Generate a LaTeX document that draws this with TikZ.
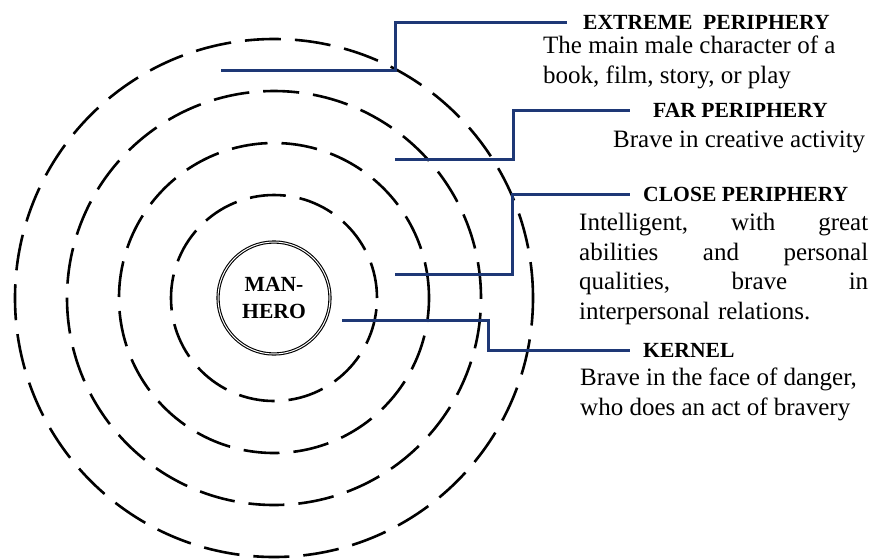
\documentclass[tikz,border=0pt]{standalone}
\usepackage{fontspec}
\setmainfont{Liberation Serif}
\usetikzlibrary{positioning}
\definecolor{linkblue}{RGB}{30,56,118}

\begin{document}
\begin{tikzpicture}[x=1pt,y=-1pt,
    ring/.style={draw, line width=2.6pt, dash pattern=on 36pt off 14pt},
    link/.style={draw=linkblue, line width=3pt},
    head/.style={anchor=west, inner sep=0pt, font=\bfseries\fontsize{21.6}{25}\selectfont},
    desc/.style={anchor=north west, inner sep=0pt, align=left, font=\fontsize{25}{29.5}\selectfont}]
    \useasboundingbox (0,0) rectangle (871,558);

    % the core and its rings
    \node[draw, circle, double, line width=1.1pt, double distance=1pt,
          minimum size=112pt, align=center,
          font=\bfseries\fontsize{21.6}{27}\selectfont] (hero) at (274,298) {MAN-\\HERO};
    \foreach \r in {103,155,207,259}
        \draw[ring] (hero.center) circle[radius=\r pt];

    % headings and notes
    \node[head] (ext)    at (583,22)  {EXTREME\ \ PERIPHERY};
    \node[desc] (extnote) at (543,36) {The main male character of a\\book, film, story, or play};
    \node[head] (far)    at (653,110) {FAR PERIPHERY};
    \node[desc] (farnote) at (613,131) {Brave in creative activity};
    \node[head] (close)  at (643,194) {CLOSE PERIPHERY};
    \node[desc, text width=289pt] (closenote) at (579,213)
        {Intelligent,\hfill with\hfill great\\abilities\hfill and\hfill personal\\qualities,\hfill brave\hfill in\\interpersonal relations.};
    \node[head] (kernel) at (643,350) {KERNEL};
    \node[desc] (kernelnote) at (580,368) {Brave in the face of danger,\\who does an act of bravery};

    % leaders
    \coordinate (ext-in)    at (221,70);
    \coordinate (far-in)    at (395,159);
    \coordinate (close-in)  at (395,274);
    \coordinate (kernel-in) at (342,320);

    \draw[link, shorten >=16pt] (ext-in) -- ++(174,0) |- (ext.west);
    \draw[link, shorten >=23pt] (far-in) -- ++(118,0) |- (far.west);
    \draw[link, shorten >=13pt] (close-in) -- ++(117,0) |- (close.west);
    \draw[link, shorten >=13pt] (kernel-in) -- ++(146,0) |- (kernel.west);
\end{tikzpicture}
\end{document}
